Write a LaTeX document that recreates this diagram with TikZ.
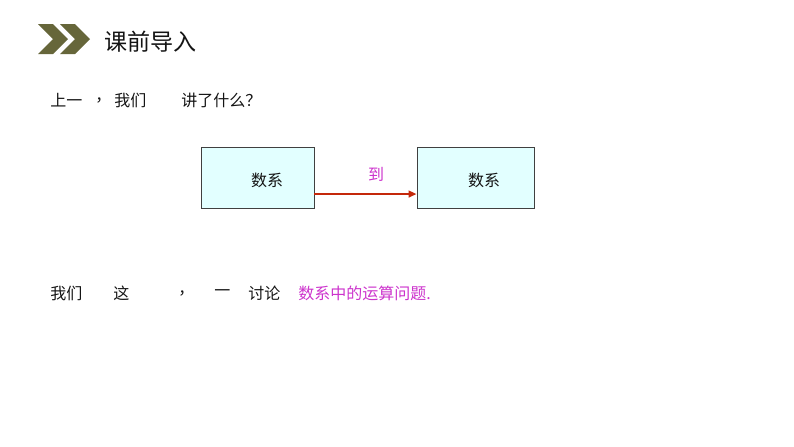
\documentclass[tikz,border=0pt]{standalone}
\usepackage{fontspec}
\newfontfamily\cjk{Noto Sans CJK SC}
\usetikzlibrary{arrows.meta}
\definecolor{olive}{RGB}{102,102,58}
\definecolor{mag}{RGB}{204,51,204}
\definecolor{boxfill}{RGB}{226,255,255}
\definecolor{arrred}{RGB}{196,40,10}
\definecolor{txt}{RGB}{20,20,20}
\tikzset{
  body/.style={anchor=west, inner sep=0pt, font=\cjk\fontsize{12pt}{14pt}\selectfont, text=txt},
  boxnode/.style={draw=black!75, line width=0.6pt, fill=boxfill, minimum height=61*0.75pt, inner sep=0pt},
  boxtxt/.style={inner sep=0pt, font=\cjk\fontsize{12pt}{14pt}\selectfont, text=txt},
  arr/.style={draw=arrred, line width=1.6pt, -{Triangle[length=6pt,width=5pt]}},
  chev/.style={fill=olive, draw=none}
}
\begin{document}
\begin{tikzpicture}[x=0.75pt, y=-0.75pt]
\useasboundingbox (0,0) rectangle (794,447);
% chevrons
\fill[chev] (38,24) -- (53,24) -- (68,39) -- (53,54) -- (38,54) -- (53,39) -- cycle;
\fill[chev] (60,24) -- (75,24) -- (90,39) -- (75,54) -- (60,54) -- (75,39) -- cycle;
\node[anchor=west, inner sep=0pt, font=\cjk\fontsize{17.3pt}{20pt}\selectfont, text=txt] (title) at (104,42) {课前导入};
% line 1
\node[body] (l1a) at (50,100) {上一};
\node[body] (l1b) at (95,100) {，};
\node[body] (l1c) at (114,100) {我们};
\node[body] (l1d) at (181,100) {讲了什么？};
% boxes
\node[boxnode, minimum width=113*0.75pt] (b1) at (257.5,177.5) {};
\node[boxnode, minimum width=117*0.75pt] (b2) at (475.5,177.5) {};
\node[boxtxt] (t1) at (267,180) {数系};
\node[boxtxt] (t2) at (484,180) {数系};
\node[inner sep=0pt, font=\cjk\fontsize{12pt}{14pt}\selectfont, text=mag] (dao) at (376,174) {到};
\draw[arr] ([yshift=-12.4pt]b1.east) -- ([yshift=-12.4pt]b2.west);
% line 2
\node[body] (l2a) at (50,293) {我们};
\node[body] (l2b) at (113,293) {这};
\node[body] (l2c) at (178,293) {，};
\node[body] (l2d) at (214,293) {一};
\node[body] (l2e) at (248,293) {讨论};
\node[body, text=mag] (l2f) at (298,293) {数系中的运算问题.};
\end{tikzpicture}
\end{document}
